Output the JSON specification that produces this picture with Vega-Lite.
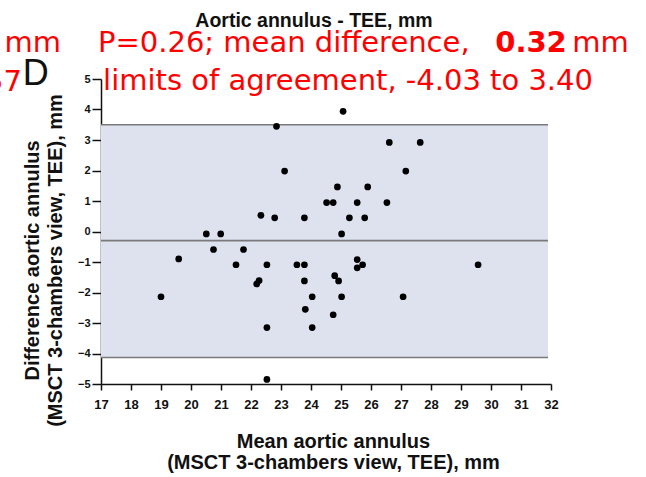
{
  "$schema": "https://vega.github.io/schema/vega-lite/v6.json",
  "width": 450,
  "height": 305,
  "autosize": {"type": "none"},
  "padding": {"left": 101, "top": 79, "right": 95, "bottom": 93},
  "background": "white",
  "config": {
    "view": {"stroke": null},
    "axis": {
      "grid": false,
      "domainColor": "#111",
      "domainWidth": 1.5,
      "tickColor": "#111",
      "tickWidth": 1.5,
      "labelOverlap": false,
      "labelBound": false,
      "labelFlush": false,
      "labelFont": "Liberation Sans",
      "labelFontWeight": "bold",
      "labelColor": "#111",
      "titleFont": "Liberation Sans",
      "titleFontWeight": "bold",
      "titleFontSize": 20,
      "titleColor": "#111"
    }
  },
  "datasets": {
    "points": [
      {"mean": 19.0, "diff": -2.14}, {"mean": 19.59, "diff": -0.9}, {"mean": 20.51, "diff": -0.08},
      {"mean": 20.99, "diff": -0.08}, {"mean": 20.75, "diff": -0.59}, {"mean": 21.75, "diff": -0.59},
      {"mean": 21.5, "diff": -1.09}, {"mean": 22.33, "diff": 0.53}, {"mean": 22.79, "diff": 0.45},
      {"mean": 22.53, "diff": -1.09}, {"mean": 22.19, "diff": -1.72}, {"mean": 22.27, "diff": -1.61},
      {"mean": 22.85, "diff": 3.45}, {"mean": 23.12, "diff": 1.98}, {"mean": 22.53, "diff": -3.15},
      {"mean": 22.53, "diff": -4.85}, {"mean": 23.53, "diff": -1.09}, {"mean": 23.78, "diff": -1.09},
      {"mean": 23.78, "diff": 0.45}, {"mean": 23.78, "diff": -1.62}, {"mean": 24.04, "diff": -2.14},
      {"mean": 23.81, "diff": -2.55}, {"mean": 24.04, "diff": -3.15}, {"mean": 24.52, "diff": 0.95},
      {"mean": 24.74, "diff": 0.95}, {"mean": 24.88, "diff": 1.46}, {"mean": 25.02, "diff": -0.08},
      {"mean": 25.28, "diff": 0.45}, {"mean": 24.79, "diff": -1.45}, {"mean": 24.92, "diff": -1.62},
      {"mean": 25.02, "diff": -2.14}, {"mean": 24.74, "diff": -2.73}, {"mean": 25.07, "diff": 3.94},
      {"mean": 26.61, "diff": 2.92}, {"mean": 27.64, "diff": 2.92}, {"mean": 27.16, "diff": 1.98},
      {"mean": 25.89, "diff": 1.46}, {"mean": 25.54, "diff": 0.95}, {"mean": 26.53, "diff": 0.95},
      {"mean": 25.79, "diff": 0.45}, {"mean": 25.54, "diff": -0.92}, {"mean": 25.72, "diff": -1.09},
      {"mean": 25.54, "diff": -1.19}, {"mean": 29.57, "diff": -1.09}, {"mean": 27.07, "diff": -2.14}
    ],
    "limits": [
      {"line": "upper limit", "diff": 3.5, "mean": 17, "mean_end": 31.9},
      {"line": "mean", "diff": -0.3, "mean": 17, "mean_end": 31.9},
      {"line": "lower limit", "diff": -4.13, "mean": 17, "mean_end": 31.9}
    ],
    "notes": [
      {"note": "title", "text": "Aortic annulus - TEE, mm", "mean": 24.1, "diff": 6.715},
      {"note": "stat1", "text": "P=0.26; mean difference,", "mean": 16.9, "diff": 5.885},
      {"note": "stat1b", "text": "0.32", "mean": 30.14, "diff": 5.885},
      {"note": "stat1c", "text": "mm", "mean": 32.71, "diff": 5.885},
      {"note": "stat2", "text": "limits of agreement, -4.03 to 3.40", "mean": 17.07, "diff": 4.64},
      {"note": "frag1", "text": "mm", "mean": 15.67, "diff": 5.885},
      {"note": "frag2", "text": "57", "mean": 14.365, "diff": 4.61},
      {"note": "panel", "text": "D", "mean": 14.39, "diff": 4.8}
    ]
  },
  "encoding": {
    "x": {
      "field": "mean", "type": "quantitative",
      "scale": {"domain": [17, 32], "nice": false, "zero": false},
      "axis": {
        "values": [17,18,19,20,21,22,23,24,25,26,27,28,29,30,31,32],
        "labelOverlap": false,
        "labelFontSize": 13,
        "tickSize": 6,
        "labelPadding": 8,
        "title": ["Mean aortic annulus", "(MSCT 3-chambers view, TEE), mm"],
        "titleLineHeight": 21,
        "titleBaseline": "alphabetic",
        "titleX": 232,
        "titleY": 63
      }
    },
    "y": {
      "field": "diff", "type": "quantitative",
      "scale": {"domain": [-5, 5], "nice": false, "zero": false},
      "axis": {
        "values": [-5,-4,-3,-2,-1,0,1,2,3,4,5],
        "labelOverlap": false,
        "labelFontSize": 11,
        "tickSize": 9,
        "labelPadding": 2,
        "title": ["Difference aortic annulus", "(MSCT 3-chambers view, TEE), mm"],
        "titleLineHeight": 23,
        "titleBaseline": "top",
        "titleAngle": -90,
        "titleX": -79,
        "titleY": 181
      }
    }
  },
  "layer": [
    {
      "data": {"values": [{"mean": 17, "mean_end": 31.9, "diff": -4.13, "diff_end": 3.5}]},
      "mark": {"type": "rect", "color": "#dde2ee"},
      "encoding": {"x2": {"field": "mean_end"}, "y2": {"field": "diff_end"}}
    },
    {
      "data": {"name": "limits"},
      "mark": {"type": "rule", "color": "#7a7a7a", "strokeWidth": 1.6},
      "encoding": {"x2": {"field": "mean_end"}}
    },
    {
      "data": {"name": "points"},
      "mark": {"type": "circle", "color": "#000", "opacity": 1, "size": 45}
    },
    {
      "data": {"name": "notes"},
      "transform": [{"filter": "datum.note === 'title'"}],
      "mark": {"type": "text", "font": "Liberation Sans", "fontWeight": "bold", "fontSize": 19.5, "align": "center", "baseline": "alphabetic", "color": "#111"},
      "encoding": {"text": {"field": "text"}}
    },
    {
      "data": {"name": "notes"},
      "transform": [{"filter": "datum.note === 'stat1' || datum.note === 'stat1c' || datum.note === 'stat2'"}],
      "mark": {"type": "text", "font": "DejaVu Sans", "fontSize": 29, "align": "left", "baseline": "alphabetic", "color": "#ff0000"},
      "encoding": {"text": {"field": "text"}}
    },
    {
      "data": {"name": "notes"},
      "transform": [{"filter": "datum.note === 'stat1b'"}],
      "mark": {"type": "text", "font": "DejaVu Sans", "fontWeight": "bold", "fontSize": 29, "align": "left", "baseline": "alphabetic", "color": "#ff0000"},
      "encoding": {"text": {"field": "text"}}
    },
    {
      "data": {"name": "notes"},
      "transform": [{"filter": "datum.note === 'frag1' || datum.note === 'frag2'"}],
      "mark": {"type": "text", "font": "DejaVu Sans", "fontSize": 29, "align": "right", "baseline": "alphabetic", "color": "#ff0000"},
      "encoding": {"text": {"field": "text"}}
    },
    {
      "data": {"name": "notes"},
      "transform": [{"filter": "datum.note === 'panel'"}],
      "mark": {"type": "text", "font": "Liberation Sans Narrow, Liberation Sans", "fontSize": 36, "align": "left", "baseline": "alphabetic", "color": "#111"},
      "encoding": {"text": {"field": "text"}}
    }
  ]
}
